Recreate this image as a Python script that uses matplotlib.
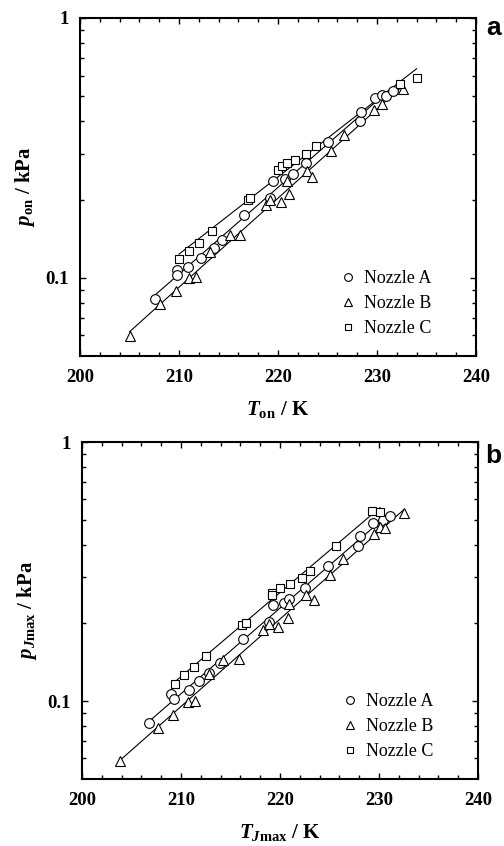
import matplotlib
matplotlib.use('Agg')
import matplotlib.pyplot as plt
from matplotlib.ticker import FixedLocator, FixedFormatter, MultipleLocator, NullFormatter
import numpy as np

plt.rcParams['font.family'] = 'Liberation Serif'
plt.rcParams['mathtext.fontset'] = 'custom'
plt.rcParams['mathtext.rm'] = 'Liberation Serif'
plt.rcParams['mathtext.it'] = 'Liberation Serif:italic'
plt.rcParams['mathtext.bf'] = 'Liberation Serif:bold'
plt.rcParams['mathtext.bfit'] = 'Liberation Serif:italic:bold'

# (a) onset temperature / pressure
on_T_A = [207.6, 209.8, 209.8, 210.9, 212.2, 213.5, 214.3, 216.6, 219.2, 219.5,
          220.7, 221.5, 222.8, 225.1, 228.3, 228.4, 229.8, 230.5, 230.9, 231.6]
on_p_A = [0.0832, 0.107, 0.1027, 0.1096, 0.1194, 0.130, 0.140, 0.174, 0.203, 0.236,
          0.241, 0.252, 0.276, 0.333, 0.400, 0.434, 0.490, 0.504, 0.500, 0.524]
on_T_B = [205.0, 208.1, 209.7, 211.0, 211.7, 213.1, 215.2, 216.2, 218.8, 219.2,
          220.3, 221.1, 220.9, 222.9, 223.4, 225.4, 226.7, 229.7, 230.5, 232.6]
on_p_B = [0.0597, 0.0796, 0.0891, 0.0994, 0.1003, 0.126, 0.1466, 0.1457, 0.190, 0.1995,
          0.195, 0.2105, 0.235, 0.257, 0.245, 0.309, 0.353, 0.444, 0.466, 0.531]
on_T_C = [210.0, 211.0, 212.0, 213.3, 217.0, 217.2, 220.0, 220.4, 220.9, 221.7,
          222.8, 223.8, 232.3, 234.0]
on_p_C = [0.118, 0.127, 0.136, 0.151, 0.1995, 0.202, 0.261, 0.269, 0.277, 0.284,
          0.300, 0.321, 0.556, 0.585]

# (b) temperature / pressure at maximum nucleation rate
jm_T_A = [206.8, 209.0, 209.3, 210.8, 211.8, 212.8, 213.9, 216.3, 218.9, 219.3,
          220.4, 220.9, 222.5, 224.8, 227.9, 228.1, 229.4, 230.4, 231.1]
jm_p_A = [0.0824, 0.106, 0.1015, 0.110, 0.119, 0.1286, 0.1397, 0.174, 0.2018, 0.234,
          0.240, 0.248, 0.274, 0.332, 0.397, 0.434, 0.485, 0.498, 0.518]
jm_T_B = [203.8, 207.7, 209.2, 210.7, 211.4, 212.8, 214.2, 215.9, 218.3, 218.9,
          219.8, 220.8, 220.9, 222.6, 223.4, 225.0, 226.4, 229.5, 230.1, 230.6, 232.5]
jm_p_B = [0.0587, 0.0788, 0.0881, 0.0991, 0.100, 0.1268, 0.144, 0.1449, 0.188, 0.198,
          0.1936, 0.2097, 0.236, 0.2566, 0.2454, 0.306, 0.352, 0.440, 0.471, 0.467, 0.531]
jm_T_C = [209.4, 210.3, 211.3, 212.5, 216.2, 216.6, 219.2, 219.2, 220.0, 221.0,
          222.2, 223.0, 225.7, 229.3, 230.1]
jm_p_C = [0.1166, 0.126, 0.1356, 0.149, 0.197, 0.2006, 0.262, 0.257, 0.273, 0.284,
          0.298, 0.319, 0.397, 0.540, 0.537]

names = ['Nozzle A', 'Nozzle B', 'Nozzle C']
markers = ['o', '^', 's']
sizes = [7, 7, 6]


def draw_panel(ax, data, xlabel, ylabel):
    for (T, p), m, s, name in zip(data, markers, sizes, names):
        T = np.array(T)
        p = np.array(p)
        # straight fit of log p against T
        k, b = np.polyfit(T, np.log10(p), 1)
        tt = np.array([T.min(), T.max()])
        ax.plot(tt, 10 ** (k * tt + b), color='black', lw=0.8, zorder=1)
        ax.plot(T, p, ls='none', marker=m, ms=s, mfc='white', mec='black',
                mew=0.8, label=name, zorder=2)

    ax.set_yscale('log')
    ax.set_xlim(200, 240)
    ax.set_ylim(0.05, 1)
    ax.xaxis.set_major_locator(MultipleLocator(10))
    ax.xaxis.set_minor_locator(MultipleLocator(2))
    ax.yaxis.set_major_locator(FixedLocator([0.1, 1]))
    ax.yaxis.set_major_formatter(FixedFormatter(['0.1', '1']))
    ax.yaxis.set_minor_locator(FixedLocator([0.06, 0.07, 0.08, 0.09, 0.2, 0.3, 0.4,
                                             0.5, 0.6, 0.7, 0.8, 0.9]))
    ax.yaxis.set_minor_formatter(NullFormatter())
    ax.tick_params(which='both', direction='in', top=True, right=True, width=1)
    ax.tick_params(which='major', length=4.5)
    ax.tick_params(which='minor', length=3)
    ax.tick_params(axis='x', pad=9)
    ax.tick_params(axis='y', pad=8)
    for lab in ax.get_xticklabels() + ax.get_yticklabels():
        lab.set_fontsize(13.5)
        lab.set_fontweight('bold')
    for sp in ax.spines.values():
        sp.set_linewidth(1.5)

    ax.set_xlabel(xlabel, fontsize=15, fontweight='bold', labelpad=10)
    ax.set_ylabel(ylabel, fontsize=15, fontweight='bold', labelpad=6)

    ax.legend(loc='lower right', bbox_to_anchor=(0.928, 0.007), frameon=False,
              fontsize=13, markerscale=0.8, handlelength=1.0, handletextpad=0.4,
              labelspacing=0.45)


fig = plt.figure(figsize=(5.04, 8.46), dpi=100)
ax1 = fig.add_axes([80 / 504, 1 - 356 / 846, 396 / 504, 338 / 846])
ax2 = fig.add_axes([82 / 504, 1 - 779 / 846, 396 / 504, 337 / 846])

draw_panel(ax1, [(on_T_A, on_p_A), (on_T_B, on_p_B), (on_T_C, on_p_C)],
           r'$\mathbfit{T}_{\mathbf{on}}$ / K', r'$\mathbfit{p}_{\mathbf{on}}$ / kPa')
draw_panel(ax2, [(jm_T_A, jm_p_A), (jm_T_B, jm_p_B), (jm_T_C, jm_p_C)],
           r'$\mathbfit{T}_{\mathbfit{J}\mathbf{max}}$ / K',
           r'$\mathbfit{p}_{\mathbfit{J}\mathbf{max}}$ / kPa')

fig.text(486 / 504, 1 - 35 / 846, 'a', family='Liberation Sans', fontweight='bold',
         fontsize=19, ha='left', va='baseline')
fig.text(485 / 504, 1 - 463 / 846, 'b', family='Liberation Sans', fontweight='bold',
         fontsize=19, ha='left', va='baseline')

fig.savefig('out.png', dpi=100)
